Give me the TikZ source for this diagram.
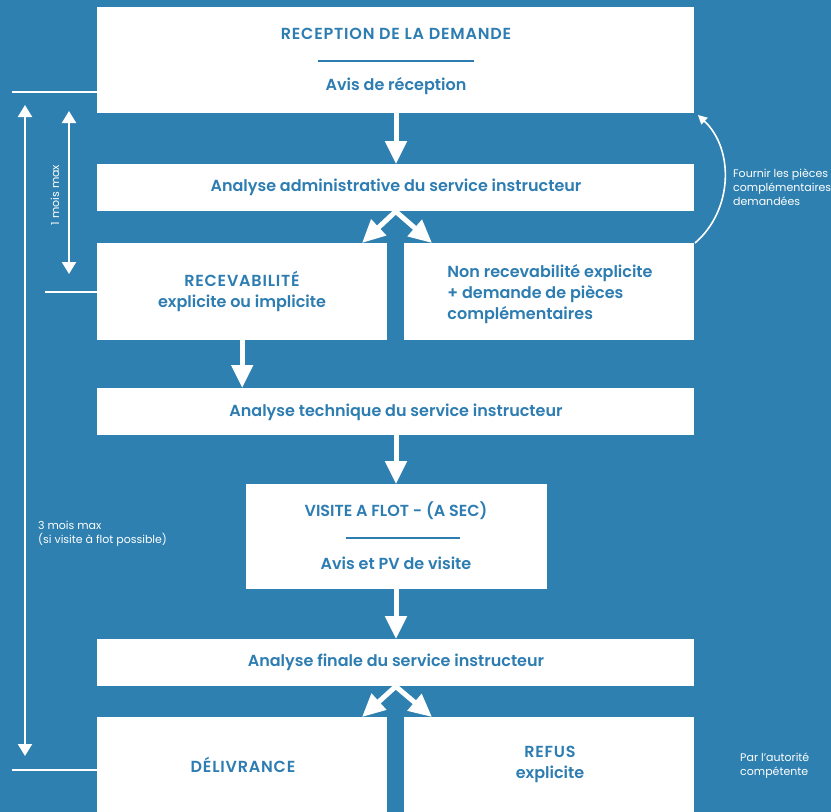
\documentclass[tikz,border=0pt]{standalone}
\usepackage{fontspec}
\setmainfont{Poppins}[BoldFont={Poppins SemiBold}]
\usetikzlibrary{arrows.meta}
\definecolor{bg}{RGB}{46,128,176}
\definecolor{tx}{RGB}{45,125,178}
\newcommand\capsp{\addfontfeature{LetterSpace=5}}
\begin{document}
\begin{tikzpicture}[x=1pt,y=-1pt,
  box/.style={fill=white, draw=none, inner sep=0pt, anchor=north west},
  lbl/.style={text=tx, font=\fontsize{16}{21}\selectfont\bfseries, align=center, inner sep=0pt},
  side/.style={text=white, font=\fontsize{11}{14}\selectfont, align=left, inner sep=0pt, anchor=west},
  bigarrow/.style={white, line width=5pt, -{Triangle[width=21pt,length=23pt]}},
  thinarrow/.style={white, line width=1.6pt, -{Triangle[width=9pt,length=9pt]}},
  dimarrow/.style={white, line width=2pt, {Triangle[width=14pt,length=12pt]}-{Triangle[width=14pt,length=12pt]}},
  rule/.style={white, line width=2pt},
  divider/.style={tx, line width=1.5pt}]
\fill[bg] (0,0) rectangle (831,812);
\useasboundingbox (0,0) rectangle (831,812);
% boxes
\node[box, minimum width=597pt, minimum height=106pt] (rec) at (97,7) {};
\node[box, minimum width=597pt, minimum height=47pt] (adm) at (97,164) {};
\node[box, minimum width=290pt, minimum height=97pt] (recv) at (97,243) {};
\node[box, minimum width=290pt, minimum height=97pt] (nonrec) at (404,243) {};
\node[box, minimum width=597pt, minimum height=47pt] (tech) at (97,388) {};
\node[box, minimum width=301pt, minimum height=105pt] (vis) at (246,484) {};
\node[box, minimum width=597pt, minimum height=47pt] (fin) at (97,639) {};
\node[box, minimum width=290pt, minimum height=100pt] (del) at (97,717) {};
\node[box, minimum width=290pt, minimum height=100pt] (ref) at (404,717) {};
% texts
\node[lbl] (t1) at (396,34) {\capsp RECEPTION DE LA DEMANDE};
\draw[divider] (318,61) -- (474,61);
\node[lbl] (t2) at (396,86) {Avis de réception};
\node[lbl] (t3) at (396,187) {Analyse administrative du service instructeur};
\node[lbl] (t4) at (242,291) {{\capsp RECEVABILITÉ}\\explicite ou implicite};
\node[lbl, align=left] (t5) at (550,294) {Non recevabilité explicite\\+ demande de pièces\\complémentaires};
\node[lbl] (t6) at (396,412) {Analyse technique du service instructeur};
\node[lbl] (t7) at (396,511) {VISITE A FLOT - (A SEC)};
\draw[divider] (346,538) -- (460,538);
\node[lbl] (t8) at (396,563) {Avis et PV de visite};
\node[lbl] (t9) at (396,662) {Analyse finale du service instructeur};
\node[lbl] (t10) at (243,765) {\capsp DÉLIVRANCE};
\node[lbl] (t11) at (550,764) {{\capsp REFUS}\\explicite};
% arrows
\draw[bigarrow] (rec.south -| 396,0) -- (adm.north -| 396,0);
\coordinate (d1) at (362,243);
\coordinate (d2) at (432,243);
\draw[bigarrow] (adm.south) -- (d1);
\draw[bigarrow] (adm.south) -- (d2);
\draw[bigarrow] (recv.south) -- (tech.north -| recv.south);
\draw[bigarrow] (tech.south -| 396,0) -- (vis.north -| 396,0);
\draw[bigarrow] (vis.south -| 396,0) -- (fin.north -| 396,0);
\coordinate (d3) at (362,717);
\coordinate (d4) at (432,717);
\draw[bigarrow] (fin.south) -- (d3);
\draw[bigarrow] (fin.south) -- (d4);
% loop back
\coordinate (c1) at (695,243);
\coordinate (c2) at (698,115);
\draw[thinarrow] (c1) to[bend right=48] (c2);
\node[side] (t12) at (733,187) {Fournir les pièces\\complémentaires\\demandées};
% left dimensions
\draw[rule] (12,92) -- (97,92);
\draw[rule] (45,292) -- (97,292);
\draw[rule] (12,770) -- (97,770);
\coordinate (l1) at (25,105);
\coordinate (l2) at (25,756);
\draw[dimarrow] (l1) -- (l2);
\coordinate (m1) at (69,111);
\coordinate (m2) at (69,274);
\draw[dimarrow] (m1) -- (m2);
\node[side, anchor=center, rotate=90] (t13) at (55,195) {1 mois max};
\node[side] (t14) at (38,534) {3 mois max\\(si visite à flot possible)};
\node[side] (t15) at (740,766) {Par l'autorité\\compétente};
\end{tikzpicture}
\end{document}
